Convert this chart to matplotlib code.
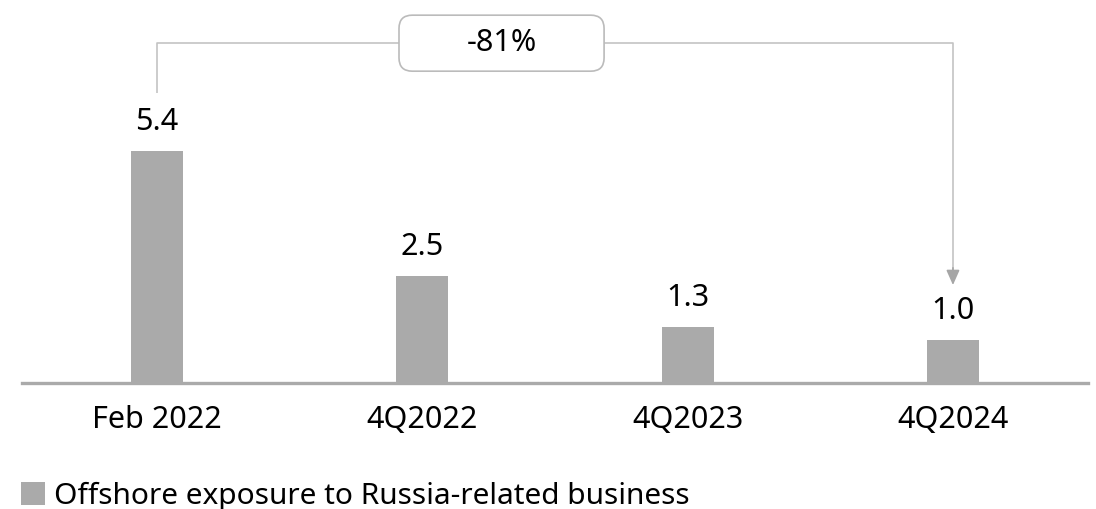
import matplotlib
matplotlib.use("Agg")
import matplotlib.pyplot as plt
from matplotlib.patches import Patch, FancyBboxPatch

plt.rcParams['font.family'] = ['Noto Sans', 'DejaVu Sans']

categories = ["Feb 2022", "4Q2022", "4Q2023", "4Q2024"]
values = [5.4, 2.5, 1.3, 1.0]
change_label = "-81%"
legend_label = "Offshore exposure to Russia-related business"

bar_color = "#aaaaaa"
line_color = "#c3c3c3"

fig = plt.figure(figsize=(10.96, 5.09), dpi=100)
ax = fig.add_axes([22 / 1096, 1 - 383 / 509, 1066 / 1096, 383 / 509])

x = list(range(len(categories)))
ax.bar(x, values, width=0.196, color=bar_color, zorder=2)

for xi, v in zip(x, values):
    ax.annotate(f"{v:.1f}", (xi, v), xytext=(0, 15), textcoords="offset points",
                ha="center", va="baseline", fontsize=22)

ax.set_xlim(-0.509, 3.509)
ax.set_ylim(0, 8.915)
ax.set_xticks(x)
ax.set_xticklabels(categories, fontsize=22)
ax.tick_params(axis="x", length=0, pad=16)
ax.set_yticks([])
for side in ["top", "right", "left"]:
    ax.spines[side].set_visible(False)
ax.spines["bottom"].set_color(bar_color)
ax.spines["bottom"].set_linewidth(2.4)

# bracket from first to last bar
y_top = 7.91
y_start = values[0] + 1.35
y_end = values[-1] + 1.28
ax.plot([x[0], x[0], x[-1], x[-1]], [y_start, y_top, y_top, y_end + 0.3],
        color=line_color, lw=1.2, zorder=1, solid_capstyle="butt")
ax.annotate("", xy=(x[-1], y_end), xytext=(x[-1], y_end + 0.4),
            arrowprops=dict(arrowstyle="-|>,head_length=0.9,head_width=0.4",
                            color="#a6a6a6", lw=1.2, shrinkA=0, shrinkB=0))

box_x0, box_x1 = 0.912, 1.685
box_h = 56 / 42.96
box = FancyBboxPatch((box_x0, y_top - box_h / 2), box_x1 - box_x0, box_h,
                     boxstyle="round,pad=0,rounding_size=0.05",
                     mutation_aspect=265.3 / 42.96,
                     facecolor="white", edgecolor="#bbbbbb", lw=1.2, zorder=3,
                     clip_on=False)
ax.add_patch(box)
ax.text((box_x0 + box_x1) / 2, y_top, change_label, ha="center", va="center",
        fontsize=22, zorder=4)

handle = Patch(facecolor=bar_color, edgecolor="none")
fig.legend([handle], [legend_label], loc="lower left",
           bbox_to_anchor=(0.0, -0.045), frameon=False, fontsize=21.5,
           handlelength=0.8, handleheight=0.8, handletextpad=0.3,
           borderaxespad=0.3)

fig.savefig("out.png", dpi=100)
